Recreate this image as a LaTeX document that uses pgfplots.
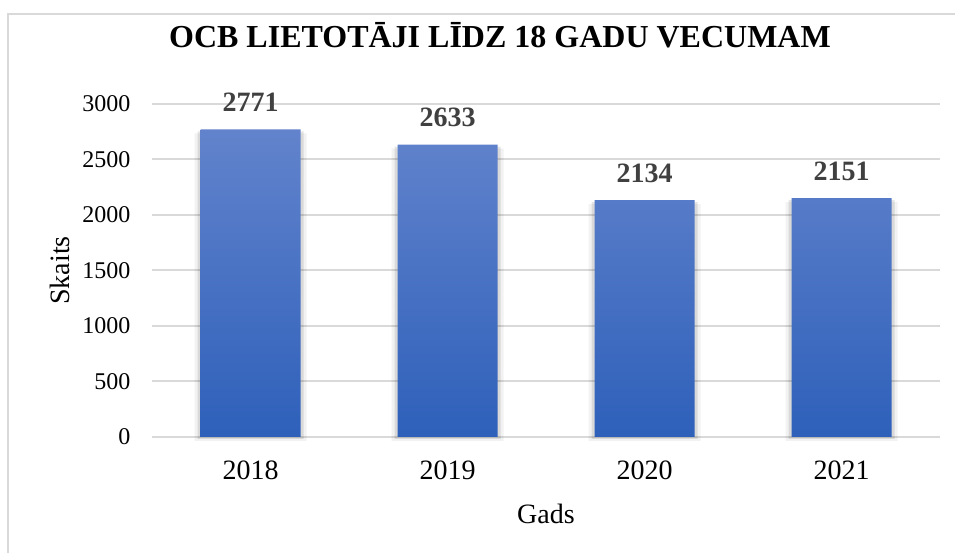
\documentclass[border=0pt]{standalone}
\usepackage{pgfplots}
\pgfplotsset{compat=1.18}
\usepackage{fontspec}
\setmainfont{Liberation Serif}
\definecolor{gridgray}{RGB}{217,217,217}
\definecolor{bartop}{RGB}{98,131,204}
\definecolor{barbot}{RGB}{46,96,186}
\definecolor{lblgray}{RGB}{64,64,64}
\begin{document}
\begin{tikzpicture}[x=1pt,y=1pt]
\useasboundingbox (0,0) rectangle (955,553);
\draw[gridgray, line width=2pt] (8,-2) -- (8,539) -- (960,539);
\node[anchor=base, font=\fontsize{32}{38}\selectfont\bfseries] at (500,505) {OCB LIETOTĀJI LĪDZ 18 GADU VECUMAM};
\begin{axis}[
  at={(152pt,116pt)}, anchor=south west,
  scale only axis, width=788pt, height=333pt,
  xmin=-0.5, xmax=3.5, ymin=0, ymax=3000,
  enlargelimits=false, clip=false,
  xtick={0,1,2,3}, xticklabels={2018,2019,2020,2021},
  ytick={0,500,...,3000},
  /pgf/number format/.cd, 1000 sep={}, assume math mode=true, /pgfplots/.cd,
  axis line style={draw=none},
  tick style={draw=none},
  ymajorgrids, major grid style={gridgray, line width=2pt},
  yticklabel style={font=\fontsize{24}{28}\selectfont, anchor=east, xshift=-18pt},
  xticklabel style={font=\fontsize{28}{33}\selectfont, anchor=north, yshift=-20pt},
  xlabel={Gads}, ylabel={Skaits},
  xlabel style={font=\fontsize{28}{33}\selectfont, at={(axis description cs:0.5,-0.2583)}, anchor=base},
  ylabel style={font=\fontsize{28}{33}\selectfont, at={(axis description cs:-0.1041,0.5)}, anchor=base, rotate=0},
]
\addplot[ybar, bar width=112pt, bar shift=0pt, draw=none, fill=black, fill opacity=0.05, yshift=-4pt]
  coordinates {(0,2771) (1,2633) (2,2134) (3,2151)};
\addplot[ybar, bar width=106pt, bar shift=0pt, draw=none, fill=black, fill opacity=0.10, yshift=-2pt]
  coordinates {(0,2771) (1,2633) (2,2134) (3,2151)};
\addplot[ybar, bar width=100pt, bar shift=0pt, draw=none, top color=bartop, bottom color=barbot,
  nodes near coords,
  nodes near coords style={font=\fontsize{28}{33}\selectfont\bfseries, text=lblgray, anchor=south, yshift=14pt}]
  coordinates {(0,2771) (1,2633) (2,2134) (3,2151)};
\end{axis}
\end{tikzpicture}
\end{document}
